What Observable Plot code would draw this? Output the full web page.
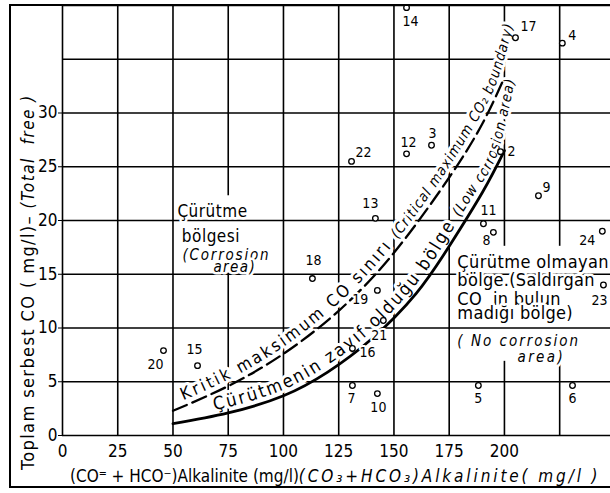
<!DOCTYPE html>
<html><head><meta charset="utf-8">
<script src="https://cdn.jsdelivr.net/npm/d3@7"></script>
<script src="https://cdn.jsdelivr.net/npm/@observablehq/plot@0.6"></script>
<style>
body{margin:0;background:#fff;}
#chart{width:610px;height:493px;}
svg text{white-space:pre;}
</style></head><body><div id="chart"></div>
<script>
const FONT = "'DejaVu Sans Condensed','DejaVu Sans',sans-serif";

// axis ticks and grid
const xTicks = [0, 25, 50, 75, 100, 125, 150, 175, 200];
const yTicks = [0, 5, 10, 15, 20, 25, 30];
const xGrid = [0, 25, 50, 75, 100, 125, 150, 175, 200, 225];
const yGrid = [0, 5, 10, 15, 20, 25, 30, 35, 40];

// sample points: id, alkalinity (mg/l), total free CO2 (mg/l)
const sampleIds  = ["2","3","4","5","6","7","8","9","10","11","12","13","14","15","16","17","18","19","20","21","22","23","24"];
const alkalinity = [198.2,167.0,226.2,188.2,230.8,131.2,195.0,215.4,142.5,190.5,155.7,141.6,155.7,61.1,131.2,205.0,113.1,142.5,45.7,145.2,130.8,244.8,244.3];
const freeCO2    = [26.4,27.0,36.5,4.65,4.65,4.65,18.9,22.3,3.9,19.7,26.2,20.2,39.8,6.5,8.1,37.0,14.6,13.5,7.9,10.7,25.5,14.0,19.0];

// critical maximum CO2 boundary (dashed)
const critX = [50, 75, 100, 125, 150, 175, 190, 200];
const critY = [2.3, 4.6, 7.6, 11.6, 17.0, 24.0, 29.0, 33.3];
// low corrosion boundary (solid)
const lowX = [50, 75, 100, 120, 140, 160, 175, 190, 200];
const lowY = [1.1, 2.1, 3.7, 5.9, 9.0, 13.2, 17.6, 22.6, 26.5];

// layout: label offsets in px per sample id [dx, dy, anchor]
const labelLayout = {
  "2":[7,0,"start"], "3":[1,-12,"middle"], "4":[6,-8,"start"], "5":[0,13,"middle"],
  "6":[0,13,"middle"], "7":[-1,13,"middle"], "8":[-7,8,"middle"], "9":[4,-8,"start"],
  "10":[1,14,"middle"], "11":[5,-13,"middle"], "12":[2,-11,"middle"], "13":[-5,-15,"middle"],
  "14":[4,14,"middle"], "15":[-3,-16,"middle"], "16":[7,4,"start"], "17":[5,-11,"start"],
  "18":[1,-18,"middle"], "19":[-9,9,"end"], "20":[-8,14,"middle"], "21":[-4,15,"middle"],
  "22":[4,-9,"start"], "23":[-4,16,"middle"], "24":[-7,9,"end"]
};

// region annotations (data coordinates)
const regionNotes = [
  {x:52,   y:20.8, text:"Çürütme", italic:false, size:17, ls:0.5},
  {x:54,   y:18.55, text:"bölgesi", italic:false, size:17, ls:0.5},
  {x:54.3, y:16.8, text:"(Corrosion", italic:true, size:15, ls:1.8},
  {x:68.3, y:15.7, text:"area)", italic:true, size:15, ls:1.4},
  {x:178.7, y:16.1, text:"Çürütme olmayan", italic:false, size:18, ls:0.4},
  {x:178.7, y:14.4, text:"bölge.(Saldırgan", italic:false, size:18, ls:0.3},
  {x:178.7, y:12.7, text:"CO\u00a0\u00a0in bulun", italic:false, size:18, ls:0.3},
  {x:178.7, y:11.4, text:"madığı bölge)", italic:false, size:18, ls:0.3},
  {x:178.7, y:8.75, text:"( No corrosion", italic:true, size:15, ls:2},
  {x:205.9, y:7.25, text:"area)", italic:true, size:15, ls:2.4}
];
// areas where the vertical grid lines were left out behind the region notes
const blankAreas = [
  {x1:53, x2:95, y1:15.1, y2:22.3},
  {x1:177.5, x2:248, y1:6.9, y2:17.6}
];

const points = sampleIds.map((id, i) => ({id, x: alkalinity[i], y: freeCO2[i]}));
const crit = critX.map((x, i) => ({x, y: critY[i]}));
const low = lowX.map((x, i) => ({x, y: lowY[i]}));
// guides for the curved captions (curve continued a little beyond its end)
const critGuide = crit.map(d => [d.x, d.y]).concat([[210, 41]]);
const lowGuide = low.map(d => [d.x, d.y]).concat([[209, 35]]);

const noteMarks = regionNotes.map(n => Plot.text([n], {
  x: "x", y: "y", text: "text", textAnchor: "start",
  fontSize: n.size, fontStyle: n.italic ? "italic" : "normal",
  fill: "black", stroke: "white", strokeWidth: 5, paintOrder: "stroke"
}));

const labelMarks = points.map(p => {
  const [dx, dy, anchor] = labelLayout[p.id];
  return Plot.text([p], {x: "x", y: "y", text: "id", dx, dy, textAnchor: anchor,
    fontSize: 14, fill: "black", stroke: "white", strokeWidth: 4, paintOrder: "stroke"});
});

const svg = Plot.plot({
  width: 610, height: 493,
  marginLeft: 62, marginRight: 0, marginTop: 5, marginBottom: 58,
  style: {fontFamily: FONT, fontSize: "17px", color: "black", background: "white"},
  x: {domain: [0, 248], ticks: xTicks, tickSize: 0, tickPadding: 9, label: null},
  y: {domain: [0, 40], ticks: yTicks, tickSize: 4, tickPadding: 1, label: null},
  marks: [
    Plot.ruleX(xGrid, {stroke: "black", strokeWidth: 1.6}),
    Plot.rect(blankAreas, {x1: "x1", x2: "x2", y1: "y1", y2: "y2", fill: "white"}),
    Plot.ruleY(yGrid, {stroke: "black", strokeWidth: 1.6}),
    ...noteMarks,
    Plot.line(crit, {x: "x", y: "y", curve: "natural", stroke: "black", strokeWidth: 2.3, strokeDasharray: "15,6"}),
    Plot.line(low, {x: "x", y: "y", curve: "natural", stroke: "black", strokeWidth: 2.8}),
    Plot.dot(points, {x: "x", y: "y", r: 2.8, fill: "white", stroke: "black", strokeWidth: 1.3}),
    ...labelMarks
  ]
});

document.getElementById("chart").appendChild(svg);

// letter spacing for the region notes
const noteGroups = svg.querySelectorAll('g[aria-label="text"]');
regionNotes.forEach((n, i) => { if (noteGroups[i] && n.ls) noteGroups[i].setAttribute("letter-spacing", n.ls); });

const xs = svg.scale("x"), ys = svg.scale("y");
const sel = d3.select(svg);
const guideLine = d3.line().x(d => xs.apply(d[0])).y(d => ys.apply(d[1])).curve(d3.curveNatural);
const defs = sel.append("defs");
defs.append("path").attr("id", "critGuide").attr("d", guideLine(critGuide));
defs.append("path").attr("id", "lowGuide").attr("d", guideLine(lowGuide));

const firstLine = svg.querySelector('g[aria-label="line"]');
function curveText(guideId, offset, parts) {
  const t = document.createElementNS("http://www.w3.org/2000/svg", "text");
  svg.insertBefore(t, firstLine);
  const ts = d3.select(t).attr("font-family", FONT).attr("fill", "black").attr("text-anchor", "start")
    .attr("stroke", "white").attr("stroke-width", 6).attr("stroke-linejoin", "round").attr("paint-order", "stroke");
  const tp = ts.append("textPath").attr("href", "#" + guideId).attr("startOffset", offset);
  parts.forEach(p => {
    const s = tp.append("tspan").attr("font-size", p.size).text(p.text);
    if (p.italic) s.attr("font-style", "italic");
    if (p.dy !== undefined) s.attr("dy", p.dy);
    if (p.ls) s.attr("letter-spacing", p.ls);
  });
}
curveText("critGuide", 14, [
  {text: "Kritik maksimum CO sınırı ", size: 17, dy: -5, ls: 2.7},
  {text: "(Critical maximum CO₂ boundary)", size: 14.5, italic: true, ls: 0.9}
]);
curveText("lowGuide", 44, [
  {text: "Çürütmenin zayıf olduğu bölge ", size: 18, dy: -5, ls: 2.4},
  {text: "(Low corrosion area)", size: 14.5, italic: true, ls: 0.9}
]);

// outer frame
sel.append("path").attr("d", "M610,5H10V487H610").attr("fill", "none").attr("stroke", "black").attr("stroke-width", 2);

// axis titles
const xt = sel.append("text").attr("x", 70).attr("y", 482).attr("text-anchor", "start").attr("font-family", FONT).attr("font-size", 17).attr("fill", "black");
xt.append("tspan").text("(CO⁼ + HCO⁻)Alkalinite (mg/l)");
xt.append("tspan").attr("font-style", "italic").attr("font-size", 17).attr("letter-spacing", 2.9).text("(CO₃+HCO₃)Alkalinite( mg/l )");

const yt = sel.append("text").attr("transform", "translate(34,470) rotate(-90)").attr("text-anchor", "start").attr("font-family", FONT).attr("font-size", 18).attr("fill", "black");
yt.append("tspan").attr("letter-spacing", 1.4).text("Toplam serbest CO ( mg/l)– ");
yt.append("tspan").attr("font-style", "italic").attr("font-size", 17).attr("letter-spacing", 1.5).text("(Total  free )");
</script></body></html>
